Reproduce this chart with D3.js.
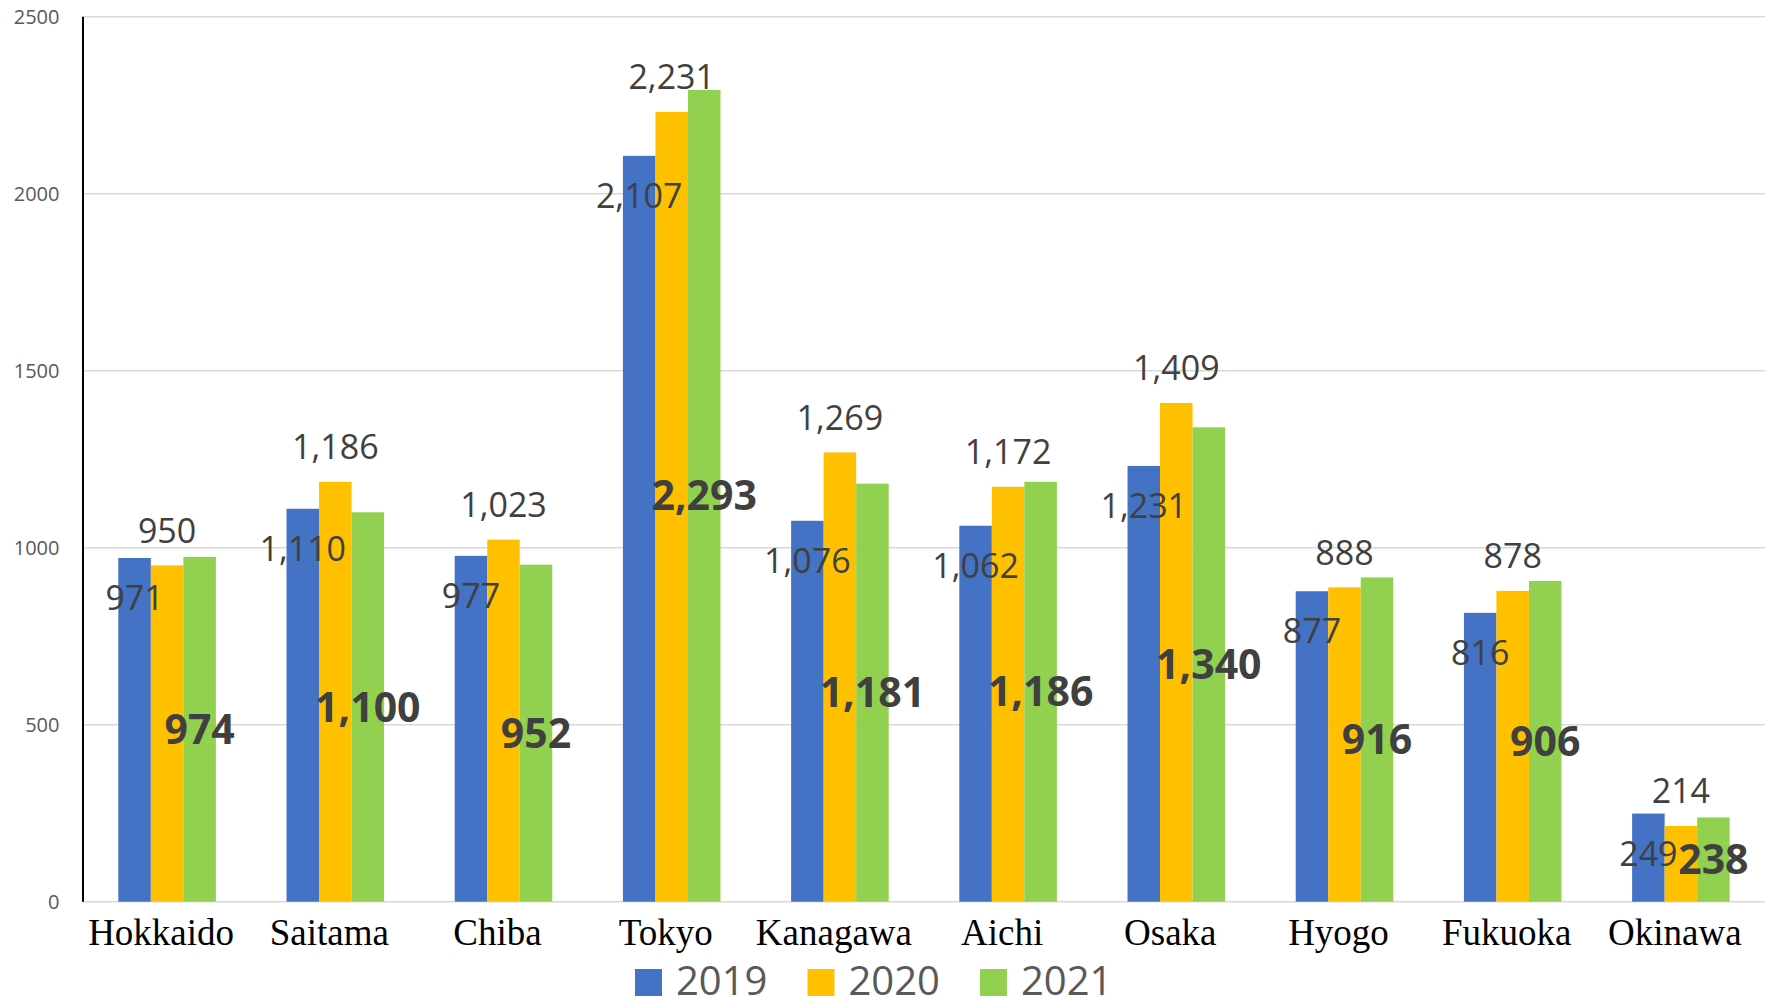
<!DOCTYPE html>
<html lang="en">
<head>
    <meta charset="UTF-8">
    <title>Prefecture values 2019-2021</title>
    <script src="https://d3js.org/d3.v7.min.js"></script>
    <style>
        body {
            margin: 0;
            background-color: #ffffff;
        }
        .cat-label {
            font-family: 'Liberation Serif', 'Times New Roman', serif;
            font-size: 37px;
            fill: #000000;
        }
        .tick-label {
            font-family: 'Open Sans', sans-serif;
            font-size: 20px;
            fill: #595959;
        }
        .val-label {
            font-family: 'Open Sans', sans-serif;
            font-size: 34px;
            fill: #404040;
        }
        .val-label.bold {
            font-size: 41px;
            font-weight: bold;
        }
        .legend-label {
            font-family: 'Open Sans', sans-serif;
            font-size: 40px;
            fill: #595959;
        }
    </style>
</head>
<body>
    <div id="chart"></div>
    <script>
        // Categories and series
        const prefectures = ["Hokkaido", "Saitama", "Chiba", "Tokyo", "Kanagawa", "Aichi", "Osaka", "Hyogo", "Fukuoka", "Okinawa"];
        const years = ["2019", "2020", "2021"];
        const values2019 = [971, 1110, 977, 2107, 1076, 1062, 1231, 877, 816, 249];
        const values2020 = [950, 1186, 1023, 2231, 1269, 1172, 1409, 888, 878, 214];
        const values2021 = [974, 1100, 952, 2293, 1181, 1186, 1340, 916, 906, 238];
        const yTicks = [0, 500, 1000, 1500, 2000, 2500];
        const colors = ["#4472C4", "#FFC000", "#92D050"];

        const seriesValues = [values2019, values2020, values2021];

        const W = 1768, H = 1001;
        const plot = { left: 83, right: 1765, top: 16.7, bottom: 901.7 };

        const svg = d3.select("#chart")
            .append("svg")
            .attr("width", W)
            .attr("height", H);

        // Scales
        const x0 = d3.scaleBand()
            .domain(prefectures)
            .range([plot.left, plot.right])
            .paddingInner(0.42)
            .paddingOuter(0.21);

        const x1 = d3.scaleBand()
            .domain(years)
            .range([0, x0.bandwidth()]);

        const y = d3.scaleLinear()
            .domain([0, 2500])
            .range([plot.bottom, plot.top]);

        // Gridlines
        svg.append("g")
            .selectAll("line")
            .data(yTicks)
            .join("line")
            .attr("x1", plot.left)
            .attr("x2", plot.right)
            .attr("y1", d => y(d))
            .attr("y2", d => y(d))
            .attr("stroke", "#d9d9d9")
            .attr("stroke-width", 1.5);

        // Y axis tick labels
        const yAxis = d3.axisLeft(y).tickValues(yTicks).tickSize(0).tickPadding(0).tickFormat(d3.format("d"));
        const yg = svg.append("g")
            .attr("transform", `translate(${plot.left - 23.5},0)`)
            .call(yAxis);
        yg.select(".domain").remove();
        yg.selectAll("text")
            .attr("class", "tick-label")
            .attr("x", 0)
            .attr("dy", "0.34em");

        // Table of bars
        const rows = [];
        prefectures.forEach((p, i) => {
            years.forEach((yr, j) => {
                rows.push({ pref: p, year: yr, idx: j, value: seriesValues[j][i] });
            });
        });

        // Bars
        svg.append("g")
            .selectAll("rect")
            .data(rows)
            .join("rect")
            .attr("x", d => x0(d.pref) + x1(d.year))
            .attr("y", d => y(d.value))
            .attr("width", x1.bandwidth())
            .attr("height", d => y(0) - y(d.value))
            .attr("fill", d => colors[d.idx]);

        // Y axis line
        svg.append("line")
            .attr("x1", plot.left)
            .attr("x2", plot.left)
            .attr("y1", plot.top)
            .attr("y2", plot.bottom)
            .attr("stroke", "#000000")
            .attr("stroke-width", 2);

        // Data labels: 2019 inside end, 2020 outside end, 2021 centred (bold)
        const cx = d => x0(d.pref) + x1(d.year) + x1.bandwidth() / 2;
        svg.append("g")
            .selectAll("text")
            .data(rows)
            .join("text")
            .attr("class", d => d.idx === 2 ? "val-label bold" : "val-label")
            .attr("text-anchor", "middle")
            .attr("x", cx)
            .attr("y", d => {
                if (d.idx === 0) return y(d.value) + 52;
                if (d.idx === 1) return y(d.value) - 22.5;
                return (y(d.value) + y(0)) / 2 + 14.5;
            })
            .text(d => d3.format(",")(d.value));

        // Category labels
        svg.append("g")
            .selectAll("text")
            .data(prefectures)
            .join("text")
            .attr("class", "cat-label")
            .attr("text-anchor", "middle")
            .attr("x", d => x0(d) + x0.bandwidth() / 2 - 6)
            .attr("y", 945)
            .text(d => d);

        // Legend (sits at the very bottom edge, as in the original)
        const legend = svg.append("g")
            .selectAll("g")
            .data(years)
            .join("g")
            .attr("transform", (d, i) => `translate(${635 + i * 172.5},969)`);
        legend.append("rect")
            .attr("width", 27)
            .attr("height", 27)
            .attr("fill", (d, i) => colors[i]);
        legend.append("text")
            .attr("class", "legend-label")
            .attr("x", 41)
            .attr("y", 26)
            .text(d => d);
    </script>
</body>
</html>
